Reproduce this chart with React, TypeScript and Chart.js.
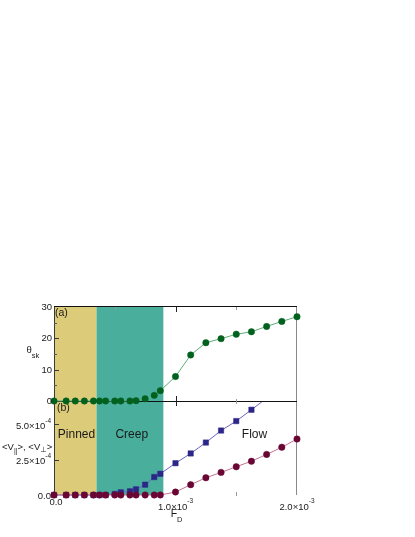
import React, { useEffect, useRef } from "react";
import { Chart, registerables } from "chart.js";
Chart.register(...registerables);

// ---------------- data ----------------
const FD = [0, 0.0001, 0.000175, 0.00025, 0.000325, 0.000375, 0.000425, 0.0005, 0.00055, 0.000625, 0.000675, 0.00075, 0.000825, 0.000875, 0.001, 0.001125, 0.00125, 0.001375, 0.0015, 0.001625, 0.00175, 0.001875, 0.002];
const THETA_SK = [0, 0, 0, 0, 0, 0, 0, 0, 0, 0, 0.1, 0.7, 1.8, 3.3, 7.8, 14.7, 18.6, 19.9, 21.3, 22.1, 23.8, 25.4, 26.9];
const V_PAR = [0, 0, 0, 0, 0, 0, 0, 0.07e-4, 0.19e-4, 0.26e-4, 0.4e-4, 0.73e-4, 1.27e-4, 1.5e-4, 2.25e-4, 2.94e-4, 3.71e-4, 4.56e-4, 5.23e-4, 6.03e-4, 6.85e-4, 7.7e-4, 8.5e-4];
const V_PERP = [0, 0, 0, 0, 0, 0, 0, 0, 0, 0, 0, 0, 0, 0, 0.21e-4, 0.73e-4, 1.22e-4, 1.6e-4, 2.0e-4, 2.39e-4, 2.87e-4, 3.38e-4, 3.96e-4];

const REGION_EDGES = [0, 0.00035, 0.0009];
const REGION_NAMES = ["Pinned", "Creep", "Flow"];
const REGION_LABEL_FD = [0.000185, 0.00064, 0.00165];

const FD_RANGE = [0, 0.002];
const THETA_RANGE = [0, 30];
const V_RANGE = [0, 6.65e-4];

const THETA_TICKS = [0, 10, 20, 30];
const THETA_TICK_LABELS = ["0", "10", "20", "30"];
const THETA_MINOR = [5, 15, 25];
const V_TICKS = [0, 2.5e-4, 5e-4];
const V_TICK_MANT = ["0.0", "2.5\u00d710", "5.0\u00d710"];
const V_TICK_EXP = ["", "-4", "-4"];
const FD_TICKS = [0, 0.001, 0.002];
const FD_TICK_MANT = ["0.0", "1.0\u00d710", "2.0\u00d710"];
const FD_TICK_EXP = ["", "-3", "-3"];
const FD_MINOR = [0.0005, 0.0015];

// ---------------- style ----------------
const FONT = "'Liberation Sans', Arial, Helvetica, sans-serif";
const BAND_COLORS = ["#DCCB79", "#49AE9C"];
const TXT = "#1a1a1a";

type Part = { t: string; size: number; dy: number; font?: string };

function drawParts(ctx: CanvasRenderingContext2D, parts: Part[], x: number, y: number, align: "left" | "right" | "center") {
  let total = 0;
  const widths = parts.map((p) => {
    ctx.font = `${p.size}px ${p.font || FONT}`;
    const w = ctx.measureText(p.t).width;
    total += w;
    return w;
  });
  let cx = align === "left" ? x : align === "right" ? x - total : x - total / 2;
  ctx.textAlign = "left";
  ctx.textBaseline = "middle";
  ctx.fillStyle = TXT;
  parts.forEach((p, i) => {
    ctx.font = `${p.size}px ${p.font || FONT}`;
    ctx.fillText(p.t, cx, y + p.dy);
    cx += widths[i];
  });
}

function seg(ctx: CanvasRenderingContext2D, x0: number, y0: number, x1: number, y1: number, color: string, w = 1) {
  ctx.beginPath();
  ctx.strokeStyle = color;
  ctx.lineWidth = w;
  ctx.moveTo(x0, y0);
  ctx.lineTo(x1, y1);
  ctx.stroke();
}

function drawBands(chart: any) {
  const { ctx, chartArea: a, scales } = chart;
  const x = scales.x;
  for (let i = 0; i < BAND_COLORS.length; i++) {
    const x0 = x.getPixelForValue(REGION_EDGES[i]);
    const x1 = x.getPixelForValue(REGION_EDGES[i + 1]);
    ctx.fillStyle = BAND_COLORS[i];
    ctx.fillRect(x0, a.top, x1 - x0, a.bottom - a.top);
  }
}

const topPlugin = {
  id: "topDeco",
  beforeDatasetsDraw(chart: any) {
    const { ctx, chartArea: a, scales } = chart;
    const x = scales.x;
    const y = scales.y;
    ctx.save();
    drawBands(chart);
    seg(ctx, a.left + 0.5, a.top, a.left + 0.5, a.bottom, "#3a3a3a");
    seg(ctx, a.right - 0.5, a.top, a.right - 0.5, a.bottom, "#8a8a8a");
    seg(ctx, a.left, a.top - 0.5, a.right, a.top - 0.5, "#111");
    seg(ctx, a.left, a.bottom + 0.5, a.right, a.bottom + 0.5, "#111");
    THETA_TICKS.forEach((v) => {
      if (v === THETA_RANGE[0] || v === THETA_RANGE[1]) return;
      const py = Math.round(y.getPixelForValue(v)) + 0.5;
      seg(ctx, a.left, py, a.left + 5, py, "#3a3a3a");
    });
    THETA_MINOR.forEach((v) => {
      const py = Math.round(y.getPixelForValue(v)) + 0.5;
      seg(ctx, a.left, py, a.left + 3, py, "#5a5a5a");
    });
    FD_TICKS.forEach((v) => {
      if (v === FD_RANGE[0] || v === FD_RANGE[1]) return;
      const px = Math.round(x.getPixelForValue(v)) + 0.5;
      seg(ctx, px, a.top, px, a.top + 5, "#222");
      seg(ctx, px, a.bottom - 5, px, a.bottom + 5, "#222");
    });
    FD_MINOR.forEach((v) => {
      const px = Math.round(x.getPixelForValue(v)) + 0.5;
      seg(ctx, px, a.top, px, a.top + 3, "#9a9a9a");
      seg(ctx, px, a.bottom - 2, px, a.bottom + 3, "#9a9a9a");
    });
    ctx.restore();
  },
  afterDraw(chart: any) {
    const { ctx, chartArea: a, scales } = chart;
    const y = scales.y;
    ctx.save();
    THETA_TICKS.forEach((v, i) => {
      drawParts(ctx, [{ t: THETA_TICK_LABELS[i], size: 9.5, dy: 0 }], a.left - 2, y.getPixelForValue(v) + 0.5, "right");
    });
    drawParts(ctx, [{ t: "(a)", size: 10.5, dy: 0 }], a.left + 1, a.top + 6.5, "left");
    drawParts(
      ctx,
      [
        { t: "\u03b8", size: 9.5, dy: 0 },
        { t: "sk", size: 7.5, dy: 6 },
      ],
      26.5,
      a.top + 43,
      "left"
    );
    ctx.restore();
  },
};

const bottomPlugin = {
  id: "bottomDeco",
  beforeDatasetsDraw(chart: any) {
    const { ctx, chartArea: a, scales } = chart;
    const x = scales.x;
    const y = scales.y;
    ctx.save();
    drawBands(chart);
    seg(ctx, a.left + 0.5, a.top, a.left + 0.5, a.bottom, "#3a3a3a");
    seg(ctx, a.right - 0.5, a.top, a.right - 0.5, a.bottom, "#8a8a8a");
    V_TICKS.forEach((v) => {
      if (v === V_RANGE[0]) return;
      const py = Math.round(y.getPixelForValue(v)) + 0.5;
      seg(ctx, a.left, py, a.left + 5, py, "#3a3a3a");
    });
    FD_MINOR.forEach((v) => {
      const px = Math.round(x.getPixelForValue(v)) + 0.5;
      seg(ctx, px, a.bottom - 3, px, a.bottom + 1, "#9a9a9a");
    });
    ctx.restore();
  },
  afterDraw(chart: any) {
    const { ctx, chartArea: a, scales } = chart;
    const x = scales.x;
    const y = scales.y;
    ctx.save();
    drawParts(ctx, [{ t: "(b)", size: 10.5, dy: 0 }], a.left + 3, a.top + 7, "left");
    REGION_NAMES.forEach((n, i) => {
      drawParts(ctx, [{ t: n, size: 12, dy: 0 }], x.getPixelForValue(REGION_LABEL_FD[i]), a.top + 34, "center");
    });
    V_TICKS.forEach((v, i) => {
      const parts: Part[] = [{ t: V_TICK_MANT[i], size: 9.5, dy: 0 }];
      if (V_TICK_EXP[i]) parts.push({ t: V_TICK_EXP[i], size: 6.5, dy: -5.5 });
      drawParts(ctx, parts, a.left - 3, y.getPixelForValue(v) + (v === 0 ? 1 : 2), "right");
    });
    FD_TICKS.forEach((v, i) => {
      const parts: Part[] = [{ t: FD_TICK_MANT[i], size: 9.5, dy: 0 }];
      if (FD_TICK_EXP[i]) parts.push({ t: FD_TICK_EXP[i], size: 6.5, dy: -6 });
      drawParts(ctx, parts, x.getPixelForValue(v) + (v === 0 ? 2 : 0), a.bottom + (v === 0 ? 7.5 : 12), "center");
    });
    drawParts(
      ctx,
      [
        { t: "F", size: 10.5, dy: 0 },
        { t: "D", size: 7.5, dy: 6 },
      ],
      x.getPixelForValue(0.00096),
      a.bottom + 19,
      "left"
    );
    drawParts(
      ctx,
      [
        { t: "<V", size: 9.5, dy: 0 },
        { t: "||", size: 7, dy: 4 },
        { t: ">, <V", size: 9.5, dy: 0 },
        { t: "\u22a5", size: 7.5, dy: 3.5, font: "'DejaVu Sans', sans-serif" },
        { t: ">", size: 9.5, dy: 0 },
      ],
      2,
      a.top + 46,
      "left"
    );
    ctx.restore();
  },
};

function baseOptions(yRange: number[], padding: any) {
  return {
    animation: false as const,
    responsive: false,
    maintainAspectRatio: false,
    devicePixelRatio: 1,
    events: [] as any[],
    layout: { padding, autoPadding: false },
    plugins: { legend: { display: false }, tooltip: { enabled: false } },
    scales: {
      x: { type: "linear" as const, min: FD_RANGE[0], max: FD_RANGE[1], display: false },
      y: { type: "linear" as const, min: yRange[0], max: yRange[1], display: false },
    },
  };
}

function pts(ys: number[]) {
  return FD.map((x, i) => ({ x, y: ys[i] }));
}

export default function App() {
  const topRef = useRef<HTMLCanvasElement>(null);
  const botRef = useRef<HTMLCanvasElement>(null);

  useEffect(() => {
    const top = new Chart(topRef.current!, {
      type: "scatter",
      data: {
        datasets: [
          {
            data: pts(THETA_SK),
            showLine: true,
            borderColor: "#5DAE78",
            borderWidth: 1,
            pointBackgroundColor: "#00611E",
            pointBorderColor: "#00611E",
            pointBorderWidth: 0.5,
            pointRadius: 3.2,
            pointStyle: "circle",
            clip: false as any,
          },
        ],
      },
      options: baseOptions(THETA_RANGE, { left: 54, right: 118, top: 17, bottom: 14 }) as any,
      plugins: [topPlugin],
    });
    const bot = new Chart(botRef.current!, {
      type: "scatter",
      data: {
        datasets: [
          {
            data: pts(V_PERP),
            showLine: true,
            borderColor: "#C27492",
            borderWidth: 1,
            pointBackgroundColor: "#6A0634",
            pointBorderColor: "#6A0634",
            pointBorderWidth: 0.5,
            pointRadius: 3.2,
            pointStyle: "circle",
            clip: { left: 8, right: 8, top: 0, bottom: 8 } as any,
          },
          {
            data: pts(V_PAR),
            showLine: true,
            borderColor: "#6B63C2",
            borderWidth: 1,
            pointBackgroundColor: "#2C2689",
            pointBorderColor: "#2C2689",
            pointBorderWidth: 0.5,
            pointRadius: 3.8,
            pointStyle: "rect",
            clip: { left: 8, right: 8, top: 0, bottom: 8 } as any,
          },
        ],
      },
      options: baseOptions(V_RANGE, { left: 54, right: 118, top: 5, bottom: 42 }) as any,
      plugins: [bottomPlugin],
    });
    return () => {
      top.destroy();
      bot.destroy();
    };
  }, []);

  return (
    <div style={{ position: "absolute", left: 0, top: 0, width: 415, height: 537, background: "#fff" }}>
      <canvas ref={botRef} width={415} height={141} style={{ position: "absolute", left: 0, top: 396, width: 415, height: 141, zIndex: 1 }} />
      <canvas ref={topRef} width={415} height={125} style={{ position: "absolute", left: 0, top: 290, width: 415, height: 125, zIndex: 2 }} />
    </div>
  );
}
